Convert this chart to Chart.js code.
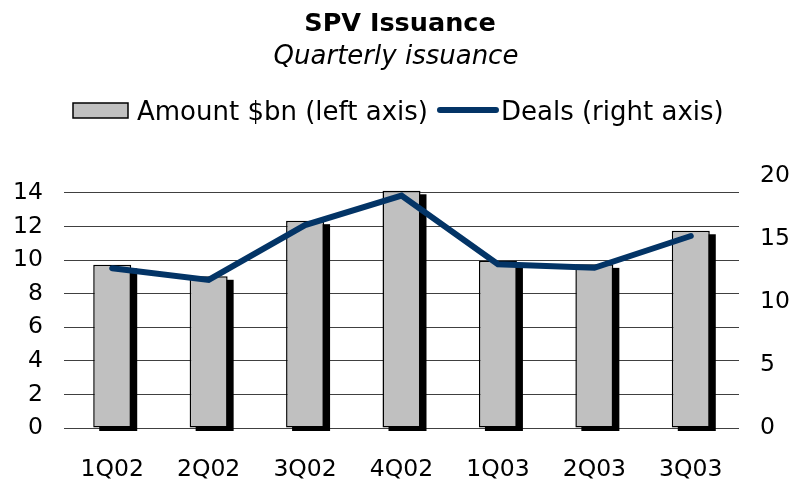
<!DOCTYPE html>
<html>
<head>
<meta charset="utf-8">
<script src="https://cdn.jsdelivr.net/npm/chart.js@4/dist/chart.umd.min.js"></script>
<style>
  html, body { margin: 0; padding: 0; background: #ffffff; }
  #wrap { width: 794px; height: 482px; }
</style>
</head>
<body>
<div id="wrap"><canvas id="c" width="794" height="482"></canvas></div>
<script>
const titleText = 'SPV Issuance';
const subtitleText = 'Quarterly issuance';
const categories = ['1Q02', '2Q02', '3Q02', '4Q02', '1Q03', '2Q03', '3Q03'];
const amountLabel = 'Amount $bn (left axis)';
const dealsLabel = 'Deals (right axis)';
const amountValues = [9.71, 9.03, 12.34, 14.12, 9.96, 9.74, 11.74];
const dealsValues = [12.68, 11.75, 16.1, 18.44, 13.0, 12.72, 15.24];
const leftTicks = [0, 2, 4, 6, 8, 10, 12, 14];
const rightTicks = [0, 5, 10, 15, 20];

const FONT = "'DejaVu Sans', Verdana, sans-serif";
const BAR_FILL = '#c0c0c0';
const LINE_COLOR = '#033466';

const shadowPlugin = {
  id: 'barShadow',
  beforeDatasetDraw(chart, args) {
    if (args.index !== 0) return;
    const ctx = chart.ctx;
    ctx.save();
    ctx.fillStyle = '#000000';
    args.meta.data.forEach(bar => {
      const p = bar.getProps(['x', 'y', 'base', 'width'], true);
      ctx.fillRect(p.x - p.width / 2 + 6, p.y + 3.5, p.width, p.base - p.y);
    });
    ctx.restore();
  }
};

const headerPlugin = {
  id: 'header',
  afterDraw(chart) {
    const ctx = chart.ctx;
    ctx.save();
    ctx.fillStyle = '#000000';
    ctx.textAlign = 'center';
    ctx.textBaseline = 'alphabetic';
    ctx.font = "bold 25.5px " + FONT;
    ctx.fillText(titleText, 400, 31);
    ctx.font = "italic 26px " + FONT;
    ctx.fillText(subtitleText, 396, 64);

    // legend
    ctx.font = "26px " + FONT;
    ctx.textAlign = 'left';
    const boxX = 73, boxY = 103, boxW = 55, boxH = 15;
    ctx.fillStyle = BAR_FILL;
    ctx.fillRect(boxX, boxY, boxW, boxH);
    ctx.strokeStyle = '#000000';
    ctx.lineWidth = 1.5;
    ctx.strokeRect(boxX, boxY, boxW, boxH);
    ctx.fillStyle = '#000000';
    const t1x = 137;
    ctx.fillText(amountLabel, t1x, 120);
    const t1w = ctx.measureText(amountLabel).width;
    const lx0 = t1x + t1w + 12;
    const lx1 = lx0 + 56;
    ctx.strokeStyle = LINE_COLOR;
    ctx.lineWidth = 6;
    ctx.lineCap = 'round';
    ctx.beginPath();
    ctx.moveTo(lx0, 110);
    ctx.lineTo(lx1, 110);
    ctx.stroke();
    ctx.fillStyle = '#000000';
    ctx.fillText(dealsLabel, lx1 + 5, 120);
    ctx.restore();
  }
};

new Chart(document.getElementById('c'), {
  data: {
    labels: categories,
    datasets: [
      {
        type: 'bar',
        label: amountLabel,
        data: amountValues,
        yAxisID: 'yL',
        backgroundColor: BAR_FILL,
        borderColor: '#000000',
        borderWidth: 1.5,
        borderSkipped: false,
        categoryPercentage: 1.0,
        barPercentage: 0.394,
        order: 2
      },
      {
        type: 'line',
        label: dealsLabel,
        data: dealsValues,
        yAxisID: 'yR',
        borderColor: LINE_COLOR,
        borderWidth: 6,
        borderCapStyle: 'round',
        borderJoinStyle: 'miter',
        pointRadius: 0,
        tension: 0,
        fill: false,
        order: 1
      }
    ]
  },
  options: {
    responsive: false,
    animation: false,
    devicePixelRatio: 1,
    layout: { padding: { top: 176, left: 0, right: 0, bottom: 0 } },
    plugins: {
      legend: { display: false },
      title: { display: false },
      tooltip: { enabled: false }
    },
    scales: {
      x: {
        grid: { display: false },
        border: { display: false },
        ticks: {
          color: '#000000',
          font: { family: FONT, size: 23.5 },
          padding: 20,
          maxRotation: 0,
          autoSkip: false
        },
        afterFit(scale) { scale.height = 54; }
      },
      yL: {
        position: 'left',
        min: 0,
        max: 15,
        afterBuildTicks(scale) { scale.ticks = leftTicks.map(v => ({ value: v })); },
        grid: { color: '#404040', lineWidth: 1, drawTicks: false },
        border: { display: false },
        ticks: {
          color: '#000000',
          font: { family: FONT, size: 23.5 },
          padding: 21
        },
        afterFit(scale) { scale.width = 64; }
      },
      yR: {
        position: 'right',
        min: 0,
        max: 20,
        afterBuildTicks(scale) { scale.ticks = rightTicks.map(v => ({ value: v })); },
        grid: { display: false, drawTicks: false },
        border: { display: false },
        ticks: {
          color: '#000000',
          font: { family: FONT, size: 23.5 },
          padding: 21
        },
        afterFit(scale) { scale.width = 55; }
      }
    }
  },
  plugins: [shadowPlugin, headerPlugin]
});
</script>
</body>
</html>
